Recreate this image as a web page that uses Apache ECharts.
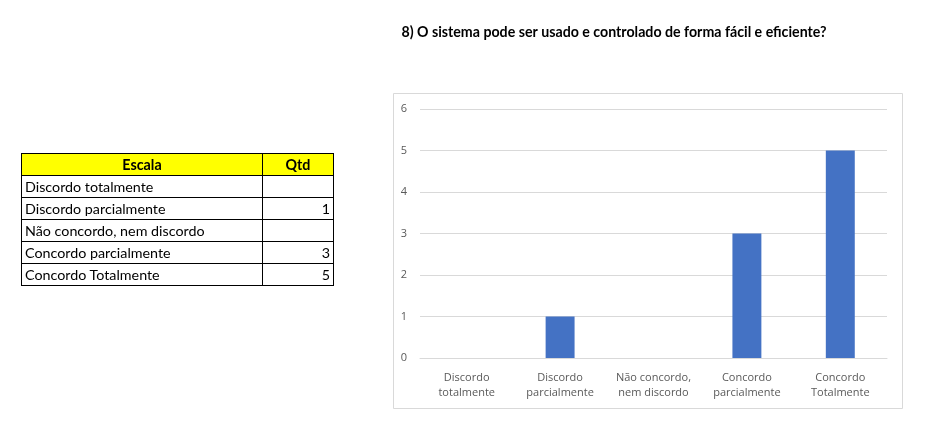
<!DOCTYPE html>
<html>
<head>
<meta charset="utf-8">
<script src="https://cdn.jsdelivr.net/npm/echarts@6/dist/echarts.min.js"></script>
<style>
  html, body { margin: 0; padding: 0; background: #fff; }
  #wrap { position: relative; width: 933px; height: 437px; }
  #chart { position: absolute; left: 0; top: 0; width: 933px; height: 437px; }
  #tbl { position: absolute; left: 21px; top: 153px; border-collapse: collapse; font-family: Lato, "Liberation Sans", sans-serif; font-size: 14.3px; color: #000; }
  #tbl td, #tbl th { border: 1px solid #000; height: 21px; padding: 0 3px; line-height: 21px; }
  #tbl th { background: #ffff00; font-weight: bold; text-align: center; }
  #tbl td.v { text-align: right; }
</style>
</head>
<body>
<div id="wrap">
  <div id="chart"></div>
  <table id="tbl"></table>
</div>
<script>
const title = "8) O sistema pode ser usado e controlado de forma fácil e eficiente?";
const tableHeaders = ["Escala", "Qtd"];
const categories = ["Discordo totalmente", "Discordo parcialmente", "Não concordo, nem discordo", "Concordo parcialmente", "Concordo Totalmente"];
const axisLabels = ["Discordo\ntotalmente", "Discordo\nparcialmente", "Não concordo,\nnem discordo", "Concordo\nparcialmente", "Concordo\nTotalmente"];
const values = [null, 1, null, 3, 5];
const yTicks = [0, 1, 2, 3, 4, 5, 6];

// table
const tbl = document.getElementById('tbl');
let html = '<tr><th style="width:234px">' + tableHeaders[0] + '</th><th style="width:64px">' + tableHeaders[1] + '</th></tr>';
categories.forEach((c, i) => {
  html += '<tr><td>' + c + '</td><td class="v">' + (values[i] == null ? '' : values[i]) + '</td></tr>';
});
tbl.innerHTML = html;

const chart = echarts.init(document.getElementById('chart'), null, { renderer: 'canvas' });
chart.setOption({
  animation: false,
  title: {
    text: title,
    left: 609, top: 20, textAlign: 'center',
    textStyle: { fontFamily: 'Lato, "Liberation Sans", sans-serif', fontSize: 14.2, fontWeight: 'bold', color: '#000' }
  },
  graphic: [{
    type: 'rect', left: 393, top: 93, z: -1,
    shape: { width: 509, height: 315 },
    style: { fill: '#fff', stroke: '#d9d9d9', lineWidth: 1 }
  }],
  grid: { left: 420, right: 46, top: 109, bottom: 79, containLabel: false },
  xAxis: {
    type: 'category',
    data: axisLabels,
    axisLine: { lineStyle: { color: '#d9d9d9' } },
    axisTick: { show: false },
    axisLabel: { color: '#595959', fontSize: 11, lineHeight: 15, margin: 12, interval: 0, fontFamily: '"Open Sans", "DejaVu Sans", sans-serif' }
  },
  yAxis: {
    type: 'value',
    min: yTicks[0], max: yTicks[yTicks.length - 1], interval: 1,
    axisLine: { show: false },
    axisTick: { show: false },
    splitLine: { lineStyle: { color: '#d9d9d9' } },
    axisLabel: { color: '#595959', fontSize: 11, margin: 13, fontFamily: '"Open Sans", "DejaVu Sans", sans-serif' }
  },
  series: [{
    type: 'bar',
    data: values,
    barWidth: '31%',
    itemStyle: { color: '#4472c4' }
  }]
});
</script>
</body>
</html>
